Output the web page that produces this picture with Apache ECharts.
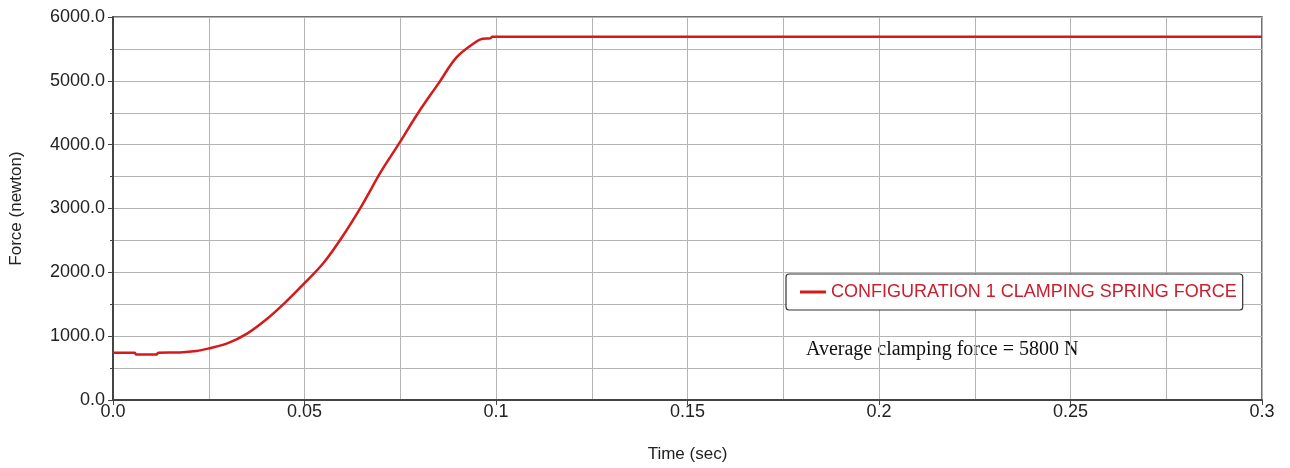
<!DOCTYPE html>
<html>
<head>
<meta charset="utf-8">
<script src="https://cdn.jsdelivr.net/npm/echarts@6/dist/echarts.min.js"></script>
<style>
  html, body { margin: 0; padding: 0; background: #fff; }
  #chart { width: 1290px; height: 468px; }
</style>
</head>
<body>
<div id="chart"></div>
<script>
// time (sec) and clamping spring force (newton)
const timeSec = [0, 0.0057, 0.006, 0.0114, 0.0118, 0.0175, 0.0218, 0.025, 0.03, 0.035,
  0.04, 0.045, 0.05, 0.055, 0.06, 0.065, 0.07, 0.0745, 0.0797, 0.085,
  0.0898, 0.095, 0.0965, 0.0985, 0.099, 0.3];
const forceN = [740, 740, 714, 714, 740, 745, 767, 808, 890, 1040,
  1260, 1530, 1830, 2150, 2570, 3050, 3580, 4000, 4500, 4960,
  5374, 5620, 5660, 5665, 5690, 5690];
const seriesName = 'CONFIGURATION 1 CLAMPING SPRING FORCE';
const note = 'Average clamping force = 5800 N';

const points = timeSec.map((t, i) => [t, forceN[i]]);
const labelFont = '"Liberation Sans", Arial, sans-serif';
const red = '#d41a1a';

const chart = echarts.init(document.getElementById('chart'));
chart.setOption({
  animation: false,
  grid: {
    left: 113, right: 28, top: 17, bottom: 68,
    show: true, borderColor: '#444', borderWidth: 1.5, backgroundColor: '#fff'
  },
  legend: {
    data: [seriesName],
    left: 786, top: 274,
    orient: 'horizontal',
    padding: [9, 6, 9, 14],
    borderColor: '#333', borderWidth: 1.2, borderRadius: 3,
    backgroundColor: '#fff',
    itemWidth: 26, itemHeight: 3, itemGap: 2,
    icon: 'rect',
    textStyle: { color: '#c8202e', fontSize: 18, fontFamily: labelFont }
  },
  graphic: [{
    type: 'text', left: 806, top: 340,
    style: { text: note, fill: '#111', font: '20px "Liberation Serif", "Times New Roman", serif' }
  }],
  xAxis: {
    type: 'value', min: 0, max: 0.3, interval: 0.05,
    name: 'Time (sec)', nameLocation: 'middle', nameGap: 46,
    nameTextStyle: { fontSize: 17, color: '#222', fontFamily: labelFont },
    axisLine: { lineStyle: { color: '#444', width: 2 } },
    axisTick: { show: true, length: 5, lineStyle: { color: '#444' } },
    axisLabel: {
      fontSize: 18, color: '#222', fontFamily: labelFont, margin: 3,
      formatter: v => v === 0 ? '0.0' : String(Math.round(v * 1000) / 1000)
    },
    splitLine: { show: true, lineStyle: { color: '#b4b4b4', width: 1 } },
    minorTick: { show: false, splitNumber: 2 },
    minorSplitLine: { show: true, lineStyle: { color: '#b4b4b4', width: 1 } }
  },
  yAxis: {
    type: 'value', min: 0, max: 6000, interval: 1000,
    name: 'Force (newton)', nameLocation: 'middle', nameGap: 88, nameRotate: 90,
    nameTextStyle: { fontSize: 17, color: '#222', fontFamily: labelFont },
    axisLine: { show: true, lineStyle: { color: '#444', width: 2 } },
    axisTick: { show: true, length: 5, lineStyle: { color: '#444' } },
    axisLabel: {
      fontSize: 18, color: '#222', fontFamily: labelFont, margin: 8,
      formatter: v => v.toFixed(1)
    },
    splitLine: { show: true, lineStyle: { color: '#b4b4b4', width: 1 } },
    minorTick: { show: true, splitNumber: 2, length: 3, lineStyle: { color: '#444' } },
    minorSplitLine: { show: true, lineStyle: { color: '#b4b4b4', width: 1 } }
  },
  series: [{
    name: seriesName,
    type: 'line',
    data: points,
    symbol: 'none',
    smooth: 0.35,
    lineStyle: { color: red, width: 2.5 },
    itemStyle: { color: red }
  }]
});
</script>
</body>
</html>
